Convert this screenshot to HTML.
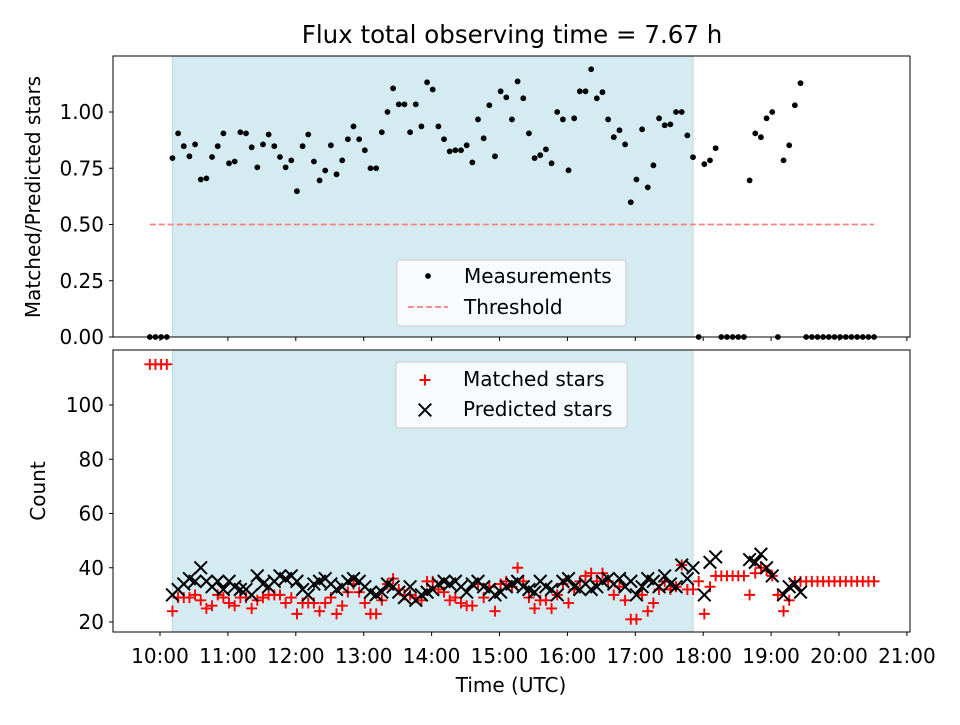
<!DOCTYPE html>
<html><head><meta charset="utf-8"><style>
body{margin:0;background:#fff}
svg text{font-family:"DejaVu Sans","Liberation Sans",sans-serif;fill:#000}
</style></head><body>
<svg id="c" width="960" height="720" xmlns="http://www.w3.org/2000/svg"></svg>
<script>
const preTimes=[591,596,601,606];
const startTime=611;
const cadenceMin=5;
const ratio=[.795,.905,.848,.803,.856,.70,.705,.80,.848,.905,.772,.78,.91,.905,.843,.754,.856,.90,.848,.80,.754,.785,.648,.848,.90,.78,.696,.74,.852,.723,.785,.879,.936,.879,.83,.75,.75,.91,1.0,1.105,1.034,1.034,.91,1.034,.936,1.132,1.10,.936,.879,.825,.83,.83,.852,.776,.967,.883,1.03,.803,1.092,1.065,.967,1.136,1.061,.905,.795,.808,.834,.772,1.0,.967,.741,.972,1.092,1.092,1.19,1.061,1.088,.967,.888,.919,.856,.599,.70,.923,.665,.763,.972,.941,.945,1.0,1.0,.896,.799,0,.768,.785,.839,0,0,0,0,0,.696,.905,.888,.972,1.0,0,.785,.852,1.03,1.128,0,0,0,0,0,0,0,0,0,0,0,0,0];
const predicted=[30,32,34,36,35,40,35,33,35,32,35,33,32,32,30,37,34,33,35,37,36,37,35,32,30,34,35,36,34,32,33,35,36,35,33,31,30,31,34,33,31,29,33,28,30,31,32,34,35,34,35,33,31,34,35,33,32,30,31,33,34,35,33,32,31,35,33,32,30,35,36,33,32,34,32,33,35,36,34,36,33,35,30,33,36,35,33,37,34,33,41,36,40,null,30,42,44,null,null,null,null,null,43,42,45,40,37,null,30,33,34,31,null,null,null,null,null,null,null,null,null,null,null,null,null];
const matched=[24,29,29,29,30,28,25,26,30,29,27,26,29,29,25,28,29,30,30,30,27,29,23,27,27,27,24,27,29,23,26,31,34,31,27,23,23,28,34,36,32,30,30,29,28,35,35,32,31,28,29,27,26,26,34,29,33,24,34,35,33,40,35,29,25,28,28,25,30,34,27,32,35,37,38,35,38,35,30,33,28,21,21,30,24,27,32,35,32,33,41,32,32,35,23,33,37,37,37,37,37,37,30,38,40,39,37,30,24,28,35,35,35,35,35,35,35,35,35,35,35,35,35,35,35];
const preRatio=[0,0,0,0];
const preMatched=[115,115,115,115];
const spanStart=611, spanEnd=1071;
const threshold=0.5, threshStart=591, threshEnd=1231;
const xTicks=["10:00","11:00","12:00","13:00","14:00","15:00","16:00","17:00","18:00","19:00","20:00","21:00"];
const topTicks=[0,0.25,0.5,0.75,1.0];
const botTicks=[20,40,60,80,100];

const svg=document.getElementById('c');
const NS='http://www.w3.org/2000/svg';
function mk(t,a,p){const e=document.createElementNS(NS,t);for(const k in a)e.setAttribute(k,a[k]);(p||svg).appendChild(e);return e;}
const L=113,R=910,T1=56,B1=337,T2=350,B2=632;
const xs=m=>160+(m-600)/60*67.9;
const y1=v=>337-v*225;
const y2=v=>622-(v-20)*2.7125;
const times=ratio.map((_,i)=>startTime+i*cadenceMin);
const TF=20;

let t=mk('text',{x:512,y:43,'text-anchor':'middle','font-size':24.5});t.textContent='Flux total observing time = 7.67 h';


function panel(T,B,name){
  const g=mk('g',{});
  
  const s=mk('rect',{x:xs(spanStart),y:T,width:xs(spanEnd)-xs(spanStart),height:B-T,fill:'#d4ebf2',stroke:'#b6dbe6','stroke-width':1},g);
  
  return g;
}
const g1=panel(T1,B1,'top-panel');
const g2=panel(T2,B2,'bottom-panel');

const th=mk('line',{x1:xs(threshStart),x2:xs(threshEnd),y1:y1(threshold),y2:y1(threshold),stroke:'#ff7f7f','stroke-width':1.8,'stroke-dasharray':'6,3'},g1);


function dot(m,v){const c=mk('circle',{cx:xs(m),cy:y1(v),r:2.9,fill:'#000'},g1);
}
preTimes.forEach((m,i)=>dot(m,preRatio[i]));
times.forEach((m,i)=>dot(m,ratio[i]));

function plus(x,y,p){const g=mk('path',{d:`M${x-5.5} ${y}H${x+5.5}M${x} ${y-5.5}V${y+5.5}`,stroke:'#f00','stroke-width':1.9,fill:'none'},p);
}
function cross(x,y,p){const g=mk('path',{d:`M${x-6.3} ${y-6.3}L${x+6.3} ${y+6.3}M${x-6.3} ${y+6.3}L${x+6.3} ${y-6.3}`,stroke:'#000','stroke-width':2,fill:'none'},p);
}
preTimes.forEach((m,i)=>plus(xs(m),y2(preMatched[i]),g2));
times.forEach((m,i)=>{plus(xs(m),y2(matched[i]),g2);});
times.forEach((m,i)=>{if(predicted[i]!=null)cross(xs(m),y2(predicted[i]),g2);});

function frame(T,B,nm){const r=mk('rect',{x:L,y:T,width:R-L,height:B-T,fill:'none',stroke:'#000','stroke-width':1});
}
frame(T1,B1,'top-axes-frame');frame(T2,B2,'bottom-axes-frame');
xTicks.forEach((lab,i)=>{const x=xs(600+i*60);
  mk('line',{x1:x,x2:x,y1:B1,y2:B1+4,stroke:'#000'});
  mk('line',{x1:x,x2:x,y1:B2,y2:B2+4,stroke:'#000'});
  const tx=mk('text',{x:x,y:663,'text-anchor':'middle','font-size':TF});tx.textContent=lab;
  });
topTicks.forEach(v=>{const y=y1(v);mk('line',{x1:L-4,x2:L,y1:y,y2:y,stroke:'#000'});
  const tx=mk('text',{x:104,y:y+7,'text-anchor':'end','font-size':TF});tx.textContent=v.toFixed(2);
  });
botTicks.forEach(v=>{const y=y2(v);mk('line',{x1:L-4,x2:L,y1:y,y2:y,stroke:'#000'});
  const tx=mk('text',{x:104,y:y+7,'text-anchor':'end','font-size':TF});tx.textContent=v;
  });
let a=mk('text',{x:511,y:692,'text-anchor':'middle','font-size':20});a.textContent='Time (UTC)';

a=mk('text',{x:0,y:0,'text-anchor':'middle','font-size':20,transform:'translate(40,197) rotate(-90)'});a.textContent='Matched/Predicted stars';

a=mk('text',{x:0,y:0,'text-anchor':'middle','font-size':20,transform:'translate(45,491) rotate(-90)'});a.textContent='Count';


function legend(x,y,w,h,nm){const g=mk('g',{});
 mk('rect',{x:x,y:y,width:w,height:h,rx:3,fill:'#fff','fill-opacity':0.8,stroke:'#ccc'},g);return g;}
const lg1=legend(397,260,229,66,'top-legend');
mk('circle',{cx:428,cy:276,r:2.9,fill:'#000'},lg1);
let e=mk('text',{x:464,y:283,'font-size':20},lg1);e.textContent='Measurements';

mk('line',{x1:408,x2:448,y1:307,y2:307,stroke:'#ff7f7f','stroke-width':1.8,'stroke-dasharray':'6,3'},lg1);
e=mk('text',{x:464,y:314,'font-size':20},lg1);e.textContent='Threshold';

const lg2=legend(396,362,231,66,'bottom-legend');
plus(425,380,lg2);
e=mk('text',{x:463,y:386,'font-size':20},lg2);e.textContent='Matched stars';

cross(425,410,lg2);
e=mk('text',{x:463,y:416,'font-size':20},lg2);e.textContent='Predicted stars';

</script>
</body></html>
